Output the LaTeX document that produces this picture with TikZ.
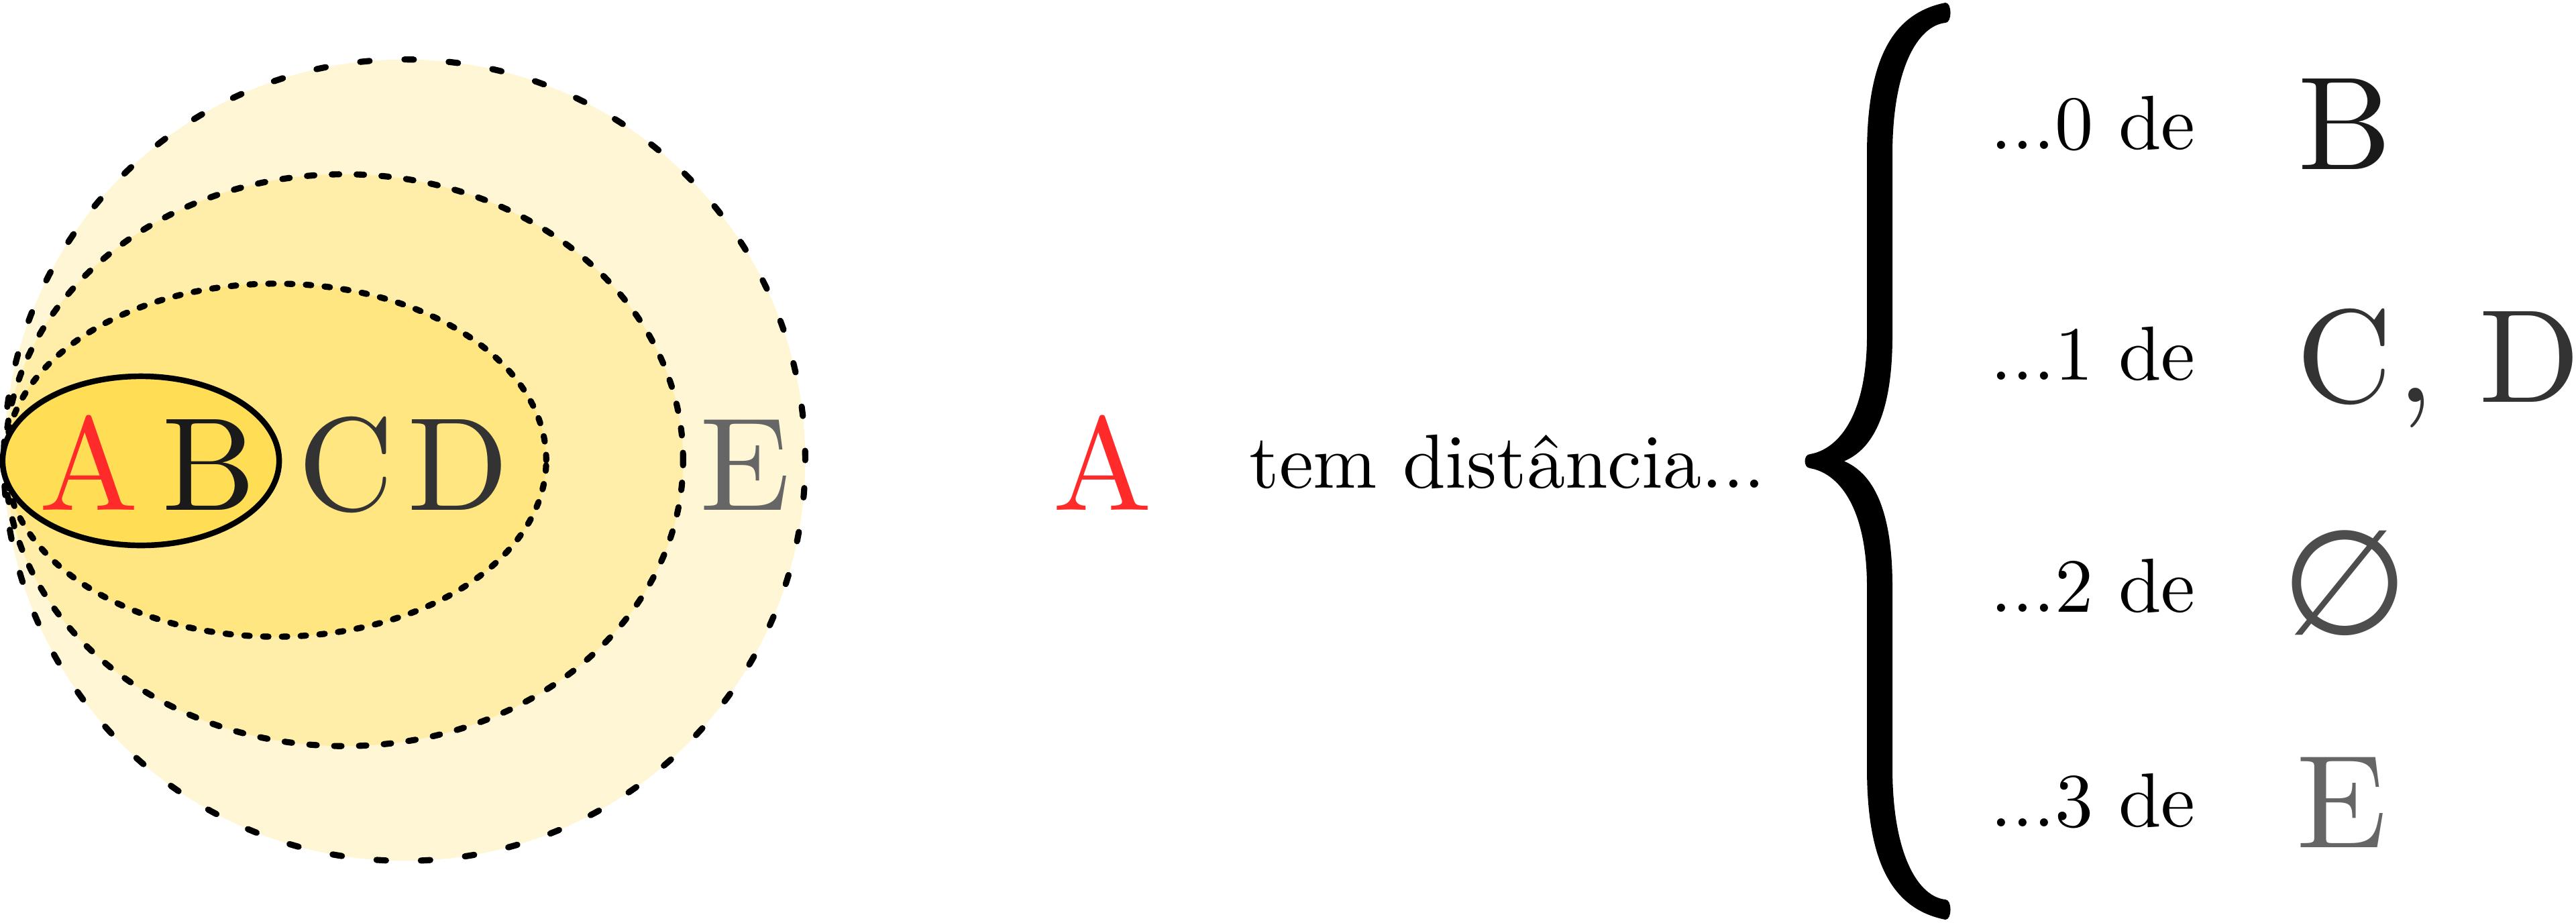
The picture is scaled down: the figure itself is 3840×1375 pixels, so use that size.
\documentclass[tikz,border=0pt]{standalone}
\usepackage{fontspec}
\setmainfont{lmroman10-regular.otf}
\newfontfamily\symfont{DejaVu Sans}
\definecolor{fillA}{HTML}{FFF6D5}
\definecolor{fillB}{HTML}{FFEEAA}
\definecolor{fillC}{HTML}{FFE680}
\definecolor{fillD}{HTML}{FFDD55}
\definecolor{redA}{HTML}{FF2A2A}
\definecolor{grB}{HTML}{1A1A1A}
\definecolor{grC}{HTML}{333333}
\definecolor{grN}{HTML}{4D4D4D}
\definecolor{grE}{HTML}{666666}
\begin{document}
\begin{tikzpicture}[x=0.01cm,y=-0.01cm,
  ring/.style={draw=black, line width=2.6pt, line cap=round},
  big/.style={font=\fontsize{56.2}{60}\selectfont, inner sep=0pt, anchor=base},
  small/.style={font=\fontsize{32.5}{38}\selectfont, inner sep=0pt, anchor=base west}]
\path[use as bounding box] (0,0) rectangle (3840,1375);
% nested regions
\filldraw[fill=fillA, ring, dash pattern=on 0.14cm off 0.52cm] (603,686) circle [radius=5.97cm];
\filldraw[fill=fillB, ring, dash pattern=on 0.11cm off 0.26cm] (513,686) ellipse [x radius=5.05cm, y radius=4.26cm];
\filldraw[fill=fillC, ring, dash pattern=on 0.08cm off 0.20cm] (411,686) ellipse [x radius=4.03cm, y radius=2.63cm];
\filldraw[fill=fillD, draw=black, line width=2.4pt] (210,687) ellipse [x radius=2.06cm, y radius=1.26cm];
% letters in the regions
\node[big, text=redA] (lA) at (133,760) {A};
\node[big, text=grB] (lB) at (311,760) {B};
\node[big, text=grC] (lC) at (516,760) {C};
\node[big, text=grC] (lD) at (683,760) {D};
\node[big, text=grE] (lE) at (1111,760) {E};
% middle statement
\node[big, text=redA] (mA) at (1644,760) {A};
\node[small] (tem) at (1862,727) {tem distância...};
% brace
\fill[black] (2900,4) .. controls (2820,20) and (2783,90) .. (2783,230) -- (2783,500)
  .. controls (2783,620) and (2740,670) .. (2698,677)
  .. controls (2688,678) and (2688,697) .. (2698,698)
  .. controls (2740,705) and (2783,755) .. (2783,875) -- (2783,1145)
  .. controls (2783,1285) and (2820,1355) .. (2900,1371)
  .. controls (2910,1371) and (2910,1341) .. (2900,1341)
  .. controls (2860,1337) and (2821,1275) .. (2821,1145) -- (2821,875)
  .. controls (2821,755) and (2790,705) .. (2749,687.5)
  .. controls (2790,670) and (2821,620) .. (2821,500) -- (2821,230)
  .. controls (2821,100) and (2860,38) .. (2900,34)
  .. controls (2910,34) and (2910,4) .. (2900,4) -- cycle;
% rows
\node[small] (r0) at (2967,222) {...0 de};
\node[small] (r1) at (2967,566) {...1 de};
\node[small] (r2) at (2967,912) {...2 de};
\node[small] (r3) at (2967,1232) {...3 de};
\node[big, text=grB] (rB) at (3495,252) {B};
\node[big, text=grC] (rC) at (3495,599) {C};
\node[big, text=grC] (rComma) at (3601,599) {,};
\node[big, text=grC] (rD) at (3771,599) {D};
\node[inner sep=0pt, text=grN, font=\symfont\fontsize{62}{66}\selectfont] (rN) at (3495,869) {∅};
\node[big, text=grE] (rE) at (3491,1263) {E};
\end{tikzpicture}
\end{document}
